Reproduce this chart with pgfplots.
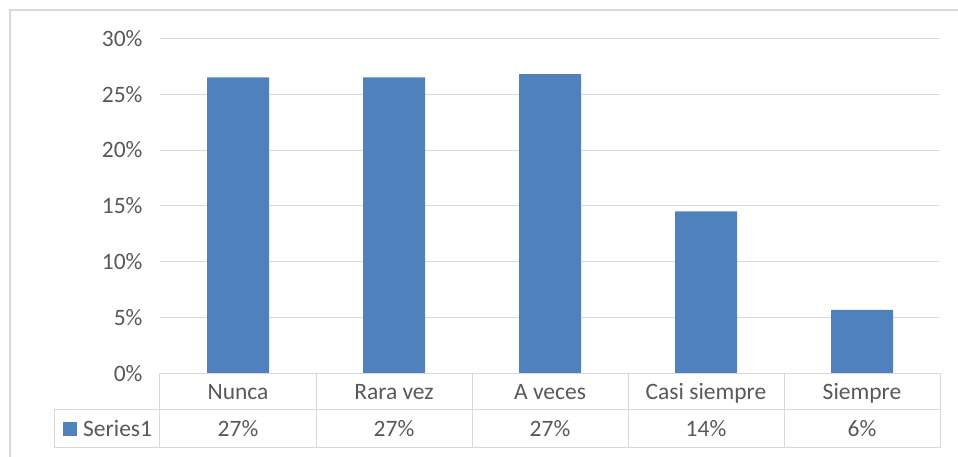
\documentclass[border=0pt]{standalone}
\usepackage{pgfplots}
\pgfplotsset{compat=1.18}
\usepackage{fontspec}
\setmainfont{Carlito}
\definecolor{barblue}{HTML}{4F81BD}
\definecolor{txt}{HTML}{595959}
\definecolor{gridc}{HTML}{D9D9D9}
\begin{document}
\begin{tikzpicture}
\useasboundingbox (-160pt,-83.5pt) rectangle (798pt,373.5pt);
% chart frame (left and top edges visible)
\draw[gridc, line width=1.3pt] (-150pt,-90pt) -- (-150pt,363.5pt) -- (805pt,363.5pt);
\begin{axis}[
  at={(0pt,0pt)}, anchor=south west,
  scale only axis, width=780pt, height=335.2pt,
  xmin=-0.5, xmax=4.5, ymin=0, ymax=30,
  axis x line*=bottom, axis y line*=left,
  axis line style={draw=none},
  xtick=\empty,
  ytick={0,5,10,15,20,25,30},
  yticklabels={0\%,5\%,10\%,15\%,20\%,25\%,30\%},
  yticklabel style={font=\fontsize{23.5}{28}\selectfont, text=txt, xshift=-14pt},
  major tick length=0pt,
  ymajorgrids, grid style={gridc, line width=1pt},
  clip=false,
]
\addplot[ybar, bar width=62pt, fill=barblue, draw=none]
  coordinates {(0,26.5) (1,26.5) (2,26.8) (3,14.5) (4,5.7)};
\end{axis}
% data table grid
\begin{scope}[gridc, line width=1pt]
\draw (0pt,0pt) -- (780pt,0pt);
\draw (-105.5pt,-36.5pt) -- (780pt,-36.5pt);
\draw (-105.5pt,-74.5pt) -- (780pt,-74.5pt);
\draw (-105.5pt,-36.5pt) -- (-105.5pt,-74.5pt);
\foreach \i in {0,1,2,3,4,5} {\draw (\i*156pt,0pt) -- (\i*156pt,-74.5pt);}
\end{scope}
\begin{scope}[every node/.style={text=txt, font=\fontsize{23.5}{28}\selectfont, anchor=base, inner sep=0pt}]
\node at (78pt,-25.8pt) {Nunca};
\node at (234pt,-25.8pt) {Rara vez};
\node at (390pt,-25.8pt) {A veces};
\node at (546pt,-25.8pt) {Casi siempre};
\node at (702pt,-25.8pt) {Siempre};
\node at (78pt,-63.2pt) {27\%};
\node at (234pt,-63.2pt) {27\%};
\node at (390pt,-63.2pt) {27\%};
\node at (546pt,-63.2pt) {14\%};
\node at (702pt,-63.2pt) {6\%};
\node[anchor=base west] at (-77pt,-63.2pt) {Series1};
\end{scope}
\fill[barblue] (-97pt,-48.2pt) rectangle (-83pt,-62.2pt);
\end{tikzpicture}
\end{document}
